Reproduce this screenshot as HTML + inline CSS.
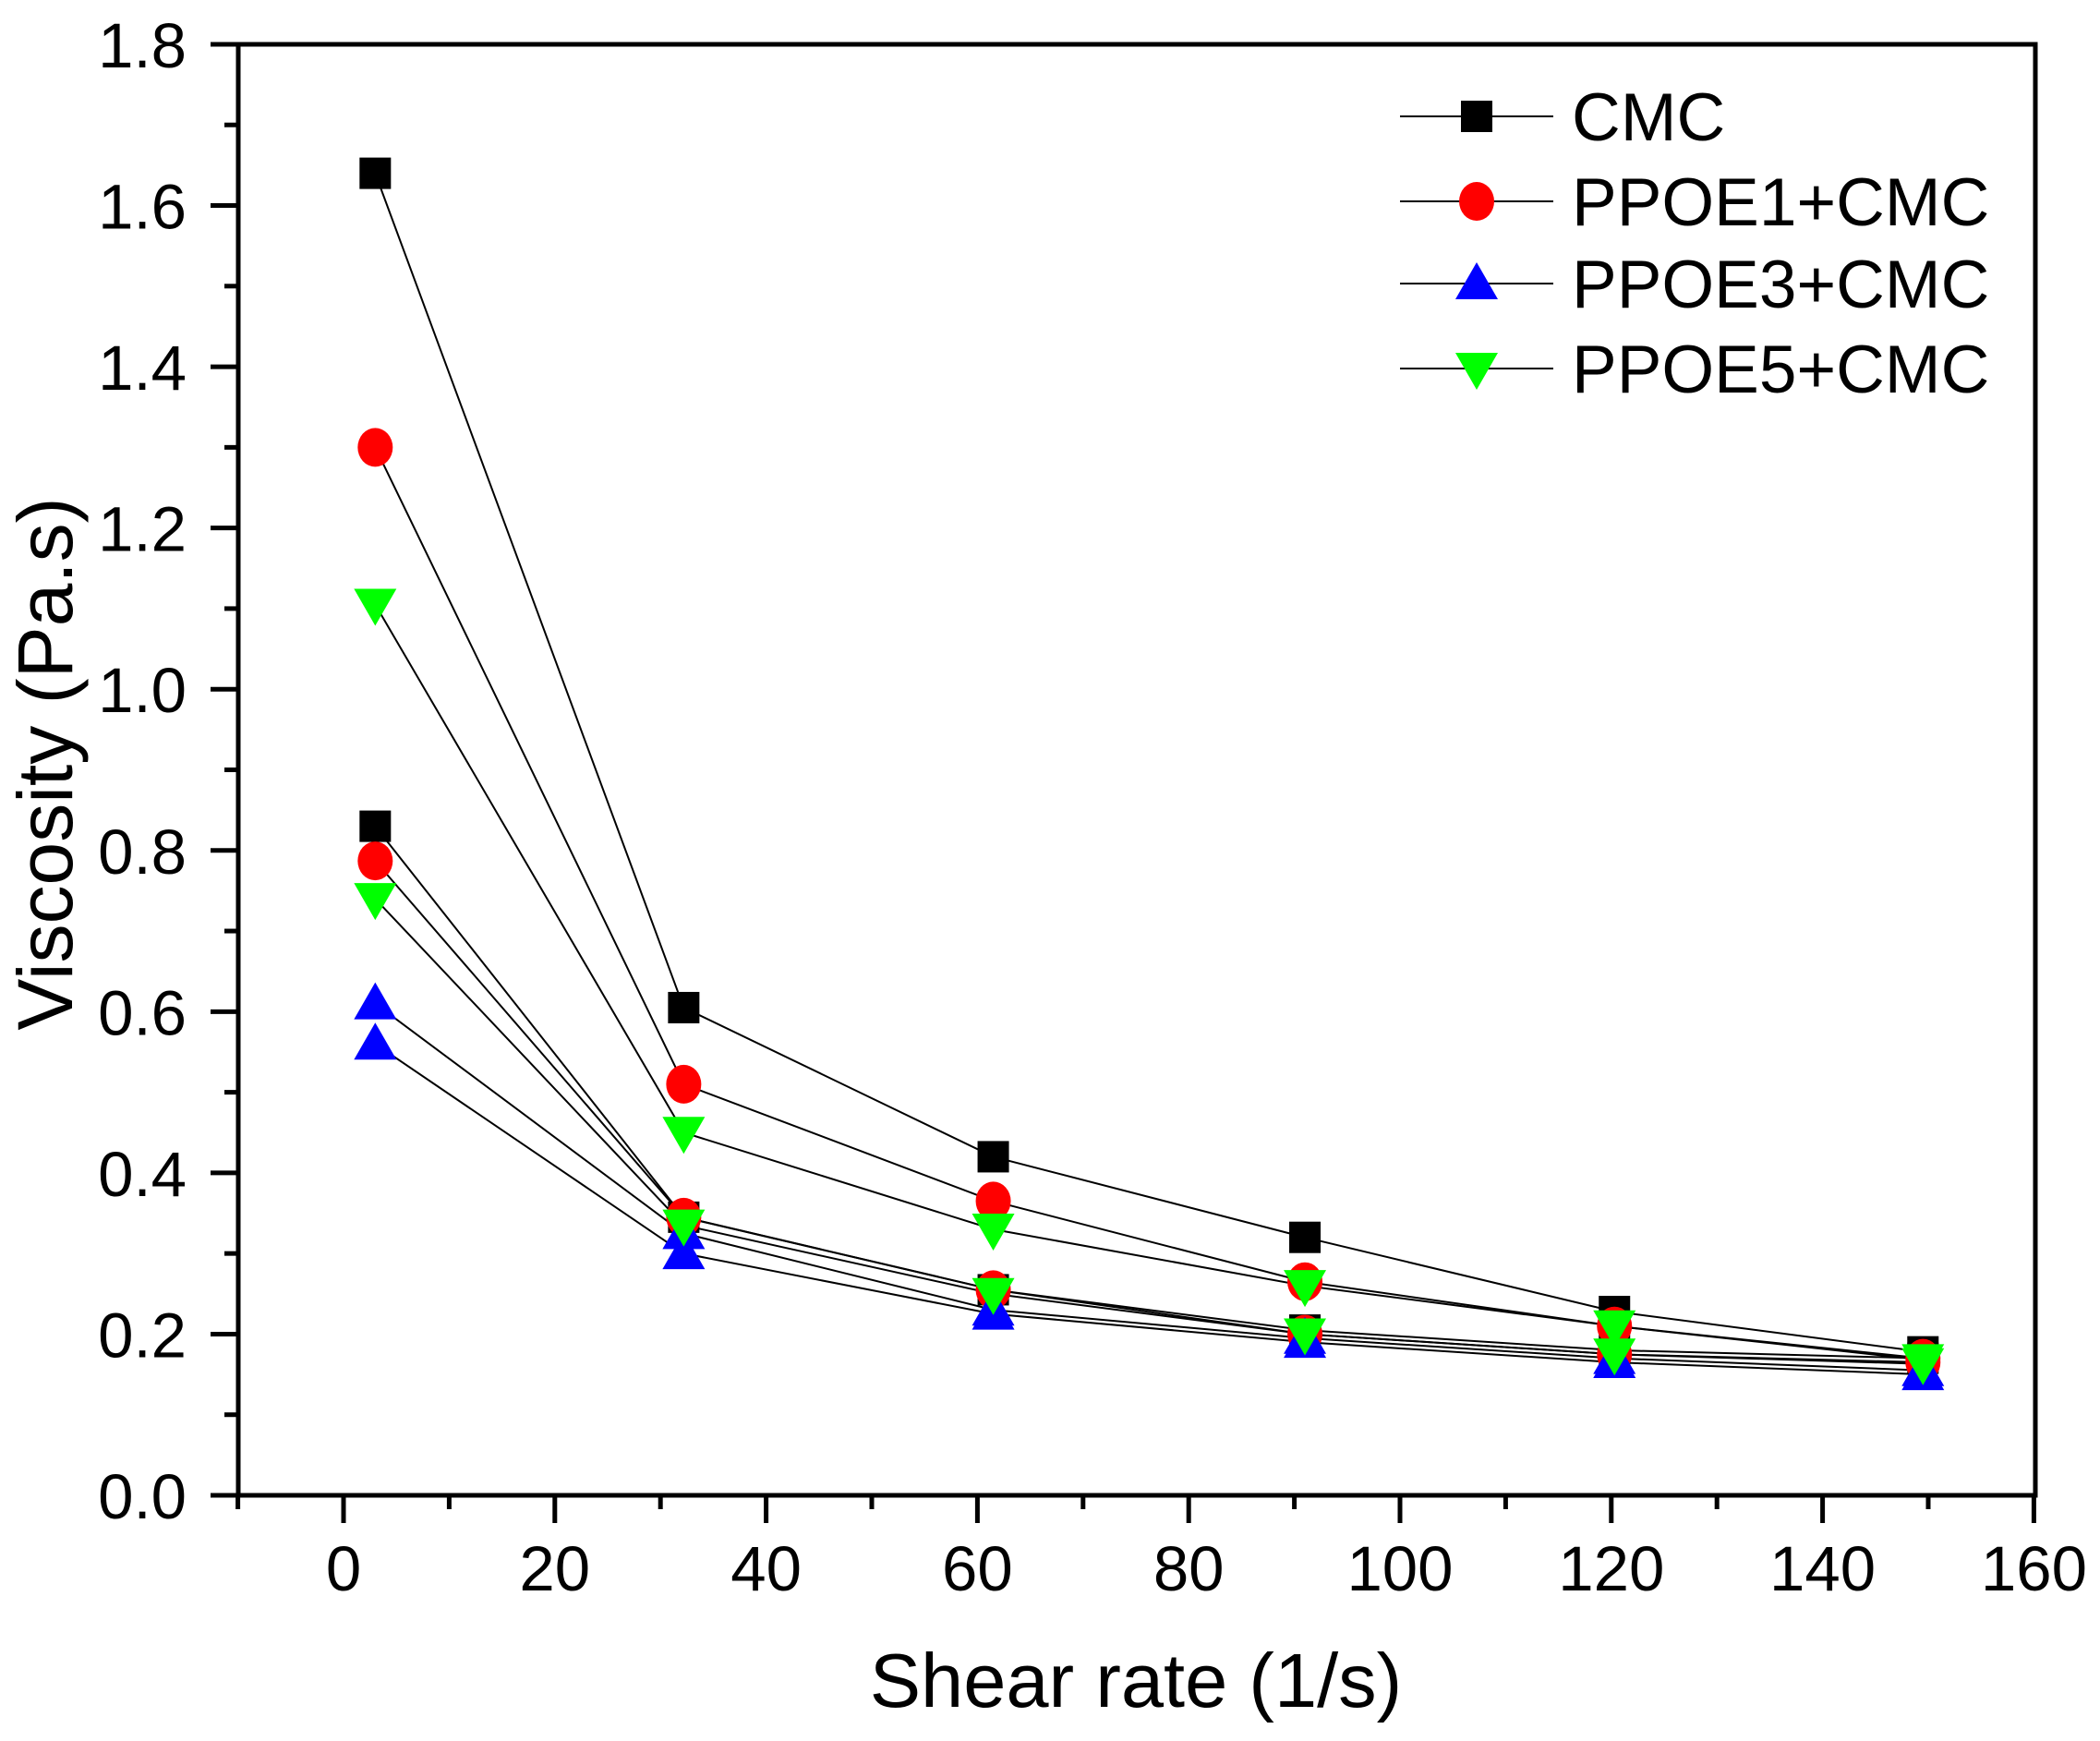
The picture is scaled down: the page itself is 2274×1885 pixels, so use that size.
<!DOCTYPE html>
<html><head><meta charset="utf-8"><style>html,body{margin:0;padding:0;background:#fff}svg{display:block}</style></head>
<body>
<svg xmlns="http://www.w3.org/2000/svg" width="2274" height="1885" viewBox="0 0 2274 1885" font-family="Liberation Sans, Arial, sans-serif">
<rect width="2274" height="1885" fill="#fff"/>
<g id="data"></g>
<g stroke="#000" stroke-width="5" fill="none">
<rect x="258" y="48" width="1946" height="1571"/>
</g>
<g id="ticks" stroke="#000" stroke-width="5"></g>
<g id="labels" font-size="69" fill="#000"></g>
<text x="1230" y="1848" font-size="83" text-anchor="middle">Shear rate (1/s)</text>
<text transform="translate(78,827) rotate(-90)" font-size="84" text-anchor="middle">Viscosity (Pa.s)</text>
<g id="legend"></g>
<script>
var NS="http://www.w3.org/2000/svg";
function el(p,t,a,txt){var e=document.createElementNS(NS,t);for(var k in a)e.setAttribute(k,a[k]);if(txt!==undefined)e.textContent=txt;p.appendChild(e);return e;}
function X(v){return 372+v*11.44;}function Y(v){return 1619-v*872.8;}
var tk=document.getElementById('ticks'),lb=document.getElementById('labels');
for(var i=0;i<=18;i++){var y=Y(i*0.1),L=i%2?15:30;el(tk,'line',{x1:258-L,x2:258,y1:y,y2:y});
 if(i%2==0)el(lb,'text',{x:202,y:y+25,'text-anchor':'end'},(i*0.1).toFixed(1));}
for(var v=-10;v<=160;v+=10){var x=X(v),L=(v%20==0)?30:15;el(tk,'line',{x1:x,x2:x,y1:1619,y2:1619+L});
 if(v%20==0)el(lb,'text',{x:x,y:1722,'text-anchor':'middle'},v);}
var xs=[3,32.2,61.5,91,120.3,149.5];
var S=[
 {m:'sq',c:'#000',d:[[1.64,0.605,0.42,0.32,0.228,0.178],[0.83,0.345,0.255,0.205,0.18,0.17]]},
 {m:'ci',c:'#ff0000',d:[[1.30,0.51,0.365,0.265,0.21,0.17],[0.787,0.345,0.255,0.2,0.175,0.165]]},
 {m:'up',c:'#0000ff',d:[[0.61,0.325,0.23,0.195,0.17,0.155],[0.56,0.3,0.225,0.19,0.165,0.15]]},
 {m:'dn',c:'#00ff00',d:[[1.105,0.45,0.33,0.26,0.21,0.168],[0.74,0.335,0.25,0.2,0.175,0.163]]}];
var g=document.getElementById('data');
function mk(p,m,c,x,y){
 if(m=='sq')el(p,'rect',{x:x-17,y:y-17,width:34,height:34,fill:c});
 else if(m=='ci')el(p,'ellipse',{cx:x,cy:y,rx:19,ry:21,fill:c});
 else if(m=='up')el(p,'polygon',{points:(x-23)+','+(y+17)+' '+(x+23)+','+(y+17)+' '+x+','+(y-23),fill:c});
 else el(p,'polygon',{points:(x-23)+','+(y-17)+' '+(x+23)+','+(y-17)+' '+x+','+(y+23),fill:c});}
S.forEach(function(s){s.d.forEach(function(d){var pts=d.map(function(v,i){return X(xs[i])+','+Y(v)}).join(' ');
 el(g,'polyline',{points:pts,fill:'none',stroke:'#000','stroke-width':2});});});
S.forEach(function(s){s.d.forEach(function(d){d.forEach(function(v,i){mk(g,s.m,s.c,X(xs[i]),Y(v));});});});
var lg=document.getElementById('legend'),names=['CMC','PPOE1+CMC','PPOE3+CMC','PPOE5+CMC'],ly=[126,218,307,399];
S.forEach(function(s,i){el(lg,'line',{x1:1516,x2:1682,y1:ly[i],y2:ly[i],stroke:'#000','stroke-width':2});
 mk(lg,s.m,s.c,1599,ly[i]);el(lg,'text',{x:1702,y:ly[i]+26,'font-size':73},names[i]);});
</script>
</svg>
</body></html>
